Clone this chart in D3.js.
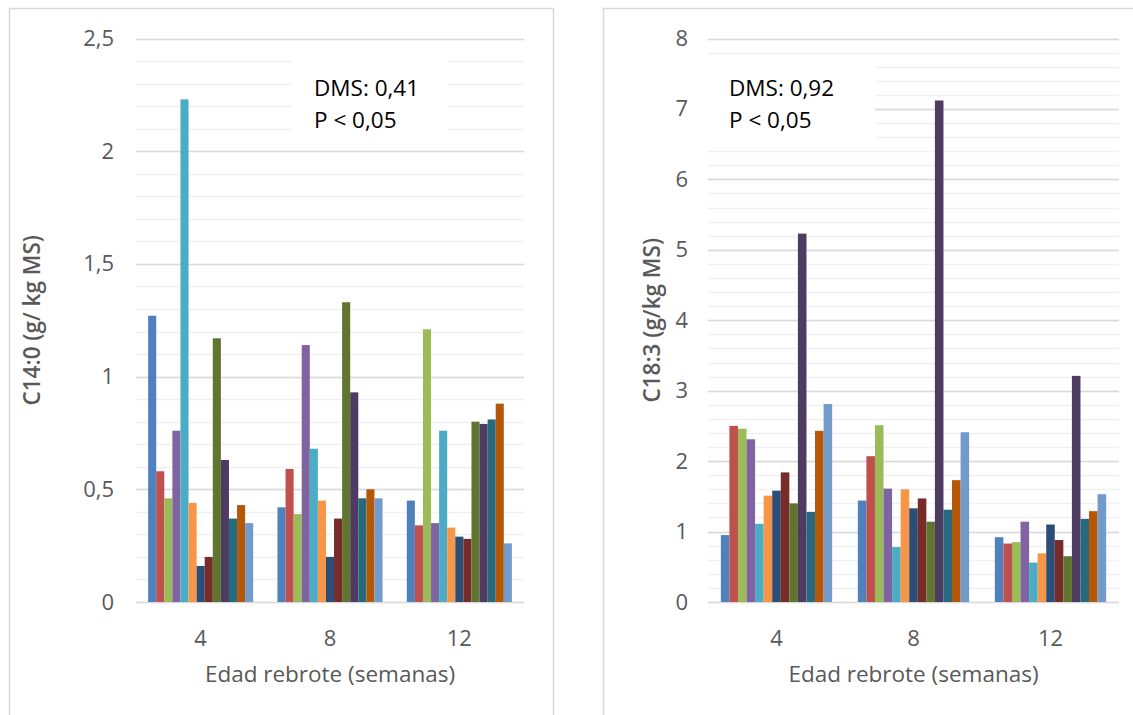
<!DOCTYPE html>
<html><head><meta charset="utf-8">
<script src="https://cdn.jsdelivr.net/npm/d3@7/dist/d3.min.js"></script>
<style>
body{margin:0;background:#fff;}
text{font-family:"Open Sans",sans-serif;}
</style>
</head><body>
<svg id="chart" width="1133" height="715"></svg>
<script>
// ---------- data ----------
const groups = ["4", "8", "12"];
const seriesNames = ["S1","S2","S3","S4","S5","S6","S7","S8","S9","S10","S11","S12","S13"];
const seriesColors = ["#4F81BD","#C0504D","#9BBB59","#8064A2","#4BACC6","#F79646",
                      "#2C4D75","#772C2A","#5F7530","#4D3B62","#276A7D","#B65708","#729ACA"];

const c14Week4  = [1.27, 0.58, 0.46, 0.76, 2.23, 0.44, 0.16, 0.20, 1.17, 0.63, 0.37, 0.43, 0.35];
const c14Week8  = [0.42, 0.59, 0.39, 1.14, 0.68, 0.45, 0.20, 0.37, 1.33, 0.93, 0.46, 0.50, 0.46];
const c14Week12 = [0.45, 0.34, 1.21, 0.35, 0.76, 0.33, 0.29, 0.28, 0.80, 0.79, 0.81, 0.88, 0.26];

const c18Week4  = [0.95, 2.50, 2.46, 2.31, 1.11, 1.51, 1.58, 1.84, 1.40, 5.23, 1.28, 2.43, 2.81];
const c18Week8  = [1.44, 2.07, 2.51, 1.61, 0.78, 1.60, 1.33, 1.47, 1.14, 7.12, 1.31, 1.73, 2.41];
const c18Week12 = [0.92, 0.83, 0.85, 1.14, 0.56, 0.69, 1.10, 0.88, 0.65, 3.21, 1.18, 1.29, 1.53];

const c14Ticks = [0, 0.5, 1, 1.5, 2, 2.5];
const c14TickLabels = ["0", "0,5", "1", "1,5", "2", "2,5"];
const c18Ticks = [0, 1, 2, 3, 4, 5, 6, 7, 8];
const c18TickLabels = ["0", "1", "2", "3", "4", "5", "6", "7", "8"];

const xTitle = "Edad rebrote (semanas)";
const c14Title = "C14:0 (g/ kg MS)";
const c18Title = "C18:3 (g/kg MS)";
const c14Note = ["DMS: 0,41", "P < 0,05"];
const c18Note = ["DMS: 0,92", "P < 0,05"];

// ---------- drawing ----------
const svg = d3.select("#chart");

function panel(cfg) {
  const g = svg.append("g");
  // frame
  g.append("rect").attr("x", cfg.frame[0]).attr("y", cfg.frame[1])
    .attr("width", cfg.frame[2]).attr("height", cfg.frame[3])
    .attr("fill", "#fff").attr("stroke", "#d9d9d9").attr("stroke-width", 1.5);

  const y = d3.scaleLinear().domain([0, cfg.max]).range([cfg.y0, cfg.y1]);
  const x0 = d3.scaleBand().domain(groups).range([cfg.x0, cfg.x1]).padding(0);
  const bw = x0.bandwidth();
  const x1 = d3.scaleBand().domain(seriesNames).range([bw * 1.5 / 16, bw * 14.5 / 16]).padding(0);

  // minor gridlines
  const minors = d3.range(0, cfg.max + 1e-9, cfg.minor);
  g.append("g").selectAll("line").data(minors).join("line")
    .attr("x1", cfg.x0).attr("x2", cfg.x1)
    .attr("y1", d => Math.round(y(d)) + 0.5).attr("y2", d => Math.round(y(d)) + 0.5)
    .attr("stroke", "#f0f0f0").attr("stroke-width", 1.5);
  // major gridlines
  g.append("g").selectAll("line").data(cfg.ticks).join("line")
    .attr("x1", cfg.x0).attr("x2", cfg.x1)
    .attr("y1", d => Math.round(y(d)) + 0.5).attr("y2", d => Math.round(y(d)) + 0.5)
    .attr("stroke", "#d9d9d9").attr("stroke-width", 1.5);

  // note box (white, masks gridlines)
  g.append("rect").attr("x", cfg.note.box[0]).attr("y", cfg.note.box[1])
    .attr("width", cfg.note.box[2]).attr("height", cfg.note.box[3]).attr("fill", "#fff");
  const nt = g.append("text").attr("x", cfg.note.x).attr("y", cfg.note.y)
    .attr("fill", "#000").attr("font-size", 22.5);
  cfg.note.lines.forEach((l, i) => nt.append("tspan").attr("x", cfg.note.x).attr("dy", i ? 32 : 0).text(l));

  // bars
  const gg = g.append("g").selectAll("g").data(cfg.data).join("g")
    .attr("transform", (d, i) => `translate(${x0(groups[i])},0)`);
  gg.selectAll("rect").data(d => d.map((v, j) => ({v, s: seriesNames[j], c: seriesColors[j]})))
    .join("rect")
    .attr("x", d => x1(d.s)).attr("width", x1.bandwidth())
    .attr("y", d => y(d.v)).attr("height", d => y(0) - y(d.v))
    .attr("fill", d => d.c);

  // y axis labels
  const ya = d3.axisLeft(y).tickValues(cfg.ticks).tickSize(0).tickPadding(0)
    .tickFormat((d, i) => cfg.labels[i]);
  const yg = g.append("g").attr("transform", `translate(${cfg.ylabX},0)`).call(ya);
  yg.select(".domain").remove();
  yg.selectAll("text").attr("font-size", 22).attr("fill", "#595959")
    .style("font-family", '"Open Sans",sans-serif');

  // x axis labels
  const xa = d3.axisBottom(x0).tickSize(0).tickPadding(0);
  const xg = g.append("g").attr("transform", `translate(0,${cfg.xlabY})`).call(xa);
  xg.select(".domain").remove();
  xg.selectAll("text").attr("font-size", 22).attr("fill", "#595959")
    .style("font-family", '"Open Sans",sans-serif');

  // titles
  g.append("text").attr("x", (cfg.x0 + cfg.x1) / 2).attr("y", cfg.xTitleY)
    .attr("text-anchor", "middle").attr("font-size", 22.5).attr("fill", "#595959").text(xTitle);
  g.append("text").attr("transform", `translate(${cfg.yTitleX},${(cfg.y0 + cfg.y1) / 2}) rotate(-90)`)
    .attr("text-anchor", "middle").attr("font-size", 22.5).attr("font-weight", 600)
    .attr("fill", "#595959").text(cfg.yTitle);
}

panel({
  frame: [9.5, 8.5, 544, 730],
  x0: 136, x1: 524, y0: 602, y1: 38.5, max: 2.5, minor: 0.1,
  ticks: c14Ticks, labels: c14TickLabels,
  data: [c14Week4, c14Week8, c14Week12],
  ylabX: 114, xlabY: 630, xTitleY: 682, yTitleX: 40, yTitle: c14Title,
  note: {box: [292, 50, 156, 90], x: 314, y: 96, lines: c14Note}
});

panel({
  frame: [603.5, 8.5, 560, 730],
  x0: 708, x1: 1119, y0: 602, y1: 38.5, max: 8, minor: 0.2,
  ticks: c18Ticks, labels: c18TickLabels,
  data: [c18Week4, c18Week8, c18Week12],
  ylabX: 688, xlabY: 630, xTitleY: 682, yTitleX: 660, yTitle: c18Title,
  note: {box: [708, 58, 167, 82], x: 729, y: 96, lines: c18Note}
});
</script>
</body></html>
